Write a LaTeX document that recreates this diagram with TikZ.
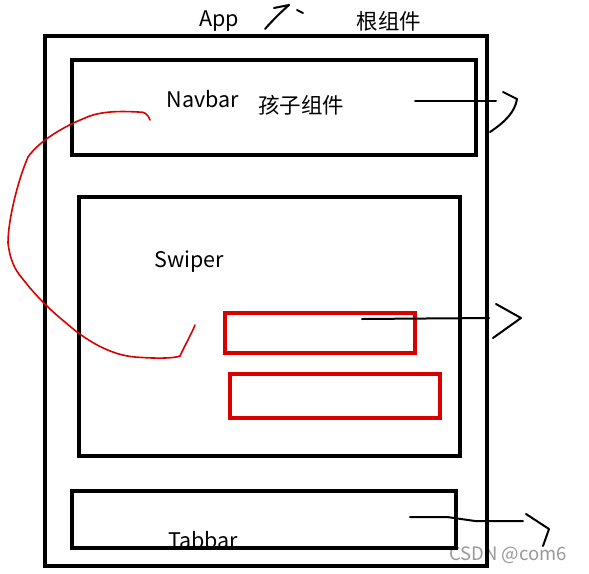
\documentclass[tikz,border=0pt]{standalone}
\usepackage{fontspec}
\setmainfont{Noto Sans CJK SC}
\begin{document}
\begin{tikzpicture}[x=1pt,y=-1pt,
  box/.style={draw=black,line width=4pt},
  redbox/.style={draw=red!85!black,line width=3.5pt},
  ink/.style={draw=black,line width=2pt,line cap=round,line join=round},
  redink/.style={draw=red!85!black,line width=1.6pt,line cap=round,line join=round},
  lbl/.style={font=\fontsize{21.5}{24}\selectfont,inner sep=0pt}]
\useasboundingbox (0,0) rectangle (589,573);
\fill[white] (0,0) rectangle (589,573);
% labels
\node[lbl] (app) at (219,21) {App};
\node[lbl] (root) at (389,21) {根组件};
\node[lbl] (navbar) at (203,99) {Navbar};
\node[lbl] (child) at (301,105) {孩子组件};
\node[lbl] (swiper) at (189,262) {Swiper};
\node[lbl] (tabbar) at (203,540) {Tabbar};
\node[font=\fontsize{18.5}{21}\selectfont,text=black!40,inner sep=0pt] (wm) at (508,555) {CSDN @com6};
% boxes
\draw[box] (45,36) rectangle (487,566);
\draw[box] (72,60) rectangle (476,155);
\draw[box] (79,197) rectangle (460,456);
\draw[box] (72,491) rectangle (456,548);
\draw[redbox] (225,313) rectangle (415,353);
\draw[redbox] (230,374) rectangle (440,418);
% doodle near App
\draw[ink] (265,29) .. controls (272,21) and (281,12) .. (289,5) -- (274,8);
\draw[ink] (297,10) -- (303,13);
% navbar arrow
\coordinate (n1) at (415,101);
\coordinate (n2) at (496,101);
\draw[ink] (n1) -- (n2);
\draw[ink] (503,92) -- (517,99) .. controls (515,112) and (505,122) .. (490,132);
% swiper arrow
\coordinate (s1) at (362,319);
\coordinate (s2) at (489,318);
\draw[ink] (s1) -- (s2);
\draw[ink] (496,304) -- (521,318) -- (493,338);
% tabbar arrow
\coordinate (t1) at (410,517);
\coordinate (t2) at (523,521);
\draw[ink] (t1) -- (447,517) -- (475,521) -- (t2);
\draw[ink] (526,514) -- (549,529) -- (543,546);
% red curve
\draw[redink] (150,120) .. controls (147,113) and (145,112) .. (138,112)
  .. controls (120,111) and (100,111) .. (85,118)
  .. controls (65,126) and (40,140) .. (28,157)
  .. controls (18,180) and (8,220) .. (8,243)
  .. controls (10,260) and (15,270) .. (22,278)
  .. controls (35,295) and (50,310) .. (65,322)
  .. controls (85,340) and (110,355) .. (135,357)
  .. controls (160,359) and (175,358) .. (180,356)
  .. controls (185,345) and (192,333) .. (195,325);
\end{tikzpicture}
\end{document}
